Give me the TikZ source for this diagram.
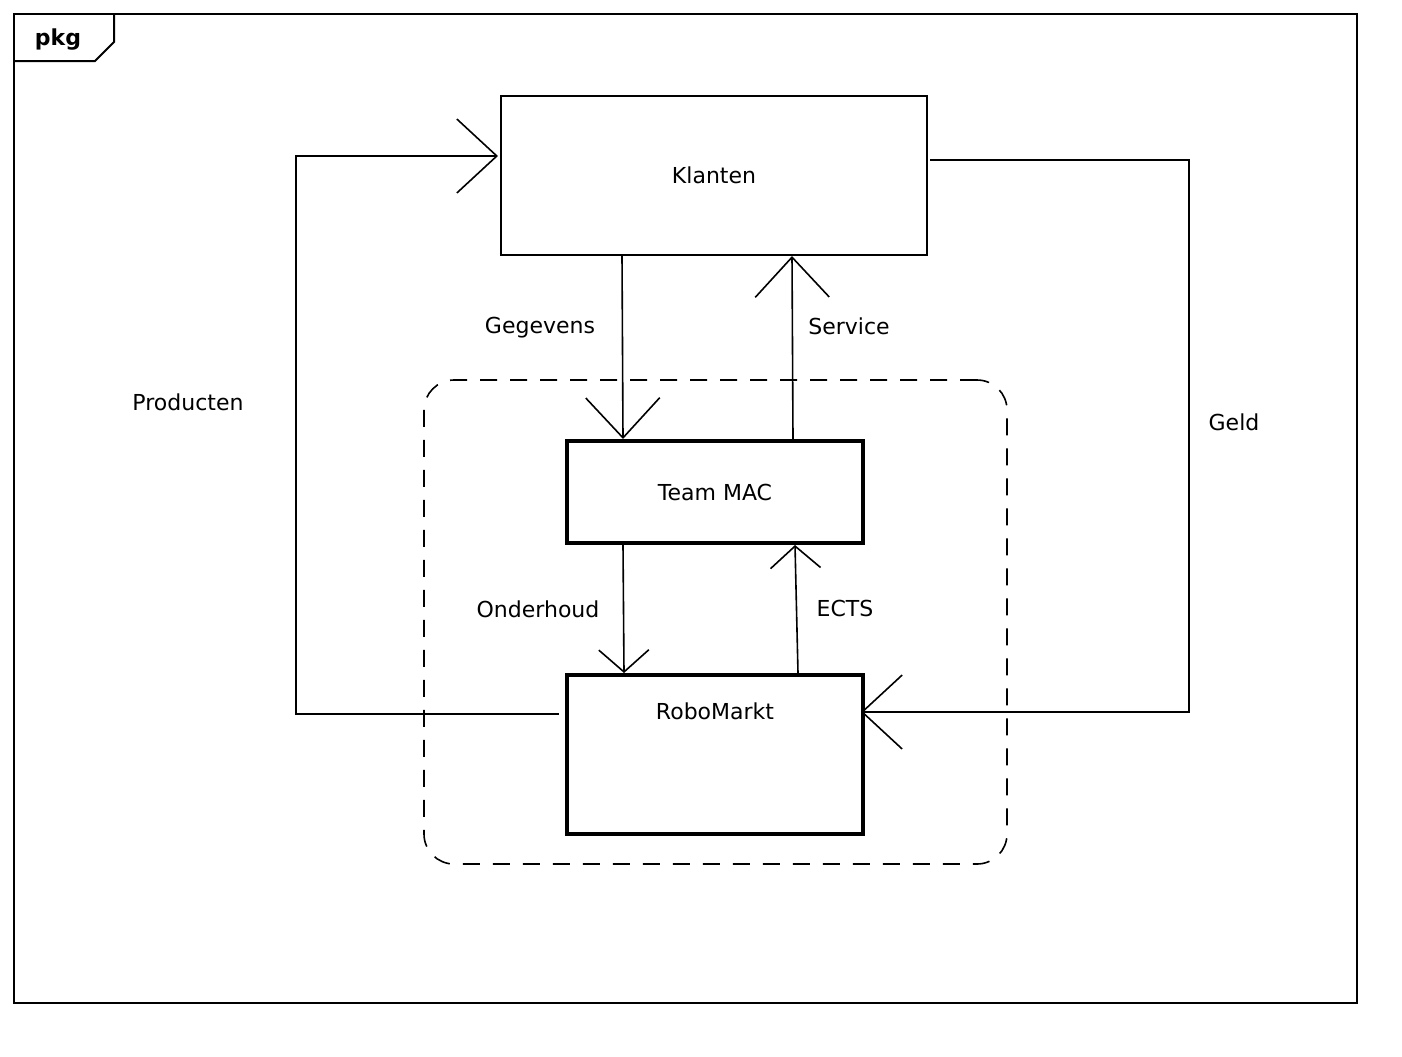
\documentclass[tikz,border=0pt]{standalone}
\usepackage{fontspec}
\setmainfont{DejaVu Sans}
\usetikzlibrary{shapes, arrows.meta, calc}

\tikzset{
  flow/.style={line width=0.8pt, -{Straight Barb[length=20pt, width=37pt]}},
  shortflow/.style={line width=0.8pt, -{Straight Barb[length=11pt, width=25pt]}},
  unit/.style={draw, rectangle, minimum width=148pt},
}

\begin{document}
\begin{tikzpicture}[x=0.5pt, y=-0.5pt, font=\fontsize{11}{13}\selectfont]
    \useasboundingbox (0,0) rectangle (1402,1056);
    % package frame
    \draw[line width=1pt] (14,14) rectangle (1357,1003);
    \draw[line width=1pt] (14,61) -- (95,61) -- (114,42) -- (114,14);
    \node[font=\fontsize{11}{13}\selectfont\bfseries] (pkg) at (58,40) {pkg};

    \node[draw, dashed, dash pattern=on 8.5pt off 6.5pt, rounded corners=15pt, line width=0.8pt, minimum width=291.5pt, minimum height=242pt] (core) at (715.5,622) {};

    \node[draw, line width=1pt, minimum width=213pt, minimum height=79.5pt] (klanten) at (714,175.5) {Klanten};
    \node[unit, line width=2pt, minimum height=51pt] (team) at (715,492) {Team MAC};
    \node[unit, line width=2pt, minimum height=79.5pt, label={[anchor=north, yshift=-11.5pt]north:RoboMarkt}] (robo) at (715,754.5) {};

    \draw[flow] ($(klanten.south)+(-92,0)$) -- ($(team.north)+(-92,0)$);
    \draw[flow] ($(team.north)+(78,0)$) -- ($(klanten.south)+(78,0)$);
    \draw[shortflow] ($(team.south)+(-92,0)$) -- ($(robo.north)+(-91,0)$);
    \draw[shortflow] ($(robo.north)+(83,0)$) -- ($(team.south)+(80,0)$);
    \draw[flow] ($(robo.north west)+(-6,41)$) -- ++(-263,0) |- ($(klanten.north west)+(-2,61)$);
    \draw[flow] ($(klanten.north east)+(2,65)$) -- ++(259,0) |- ($(robo.north east)+(-4,39)$);

    \node (gegevens) at (540,328) {Gegevens};
    \node (service) at (849,326) {Service};
    \node (producten) at (188,402) {Producten};
    \node (geld) at (1234,422) {Geld};
    \node (onderhoud) at (538,609) {Onderhoud};
    \node (ects) at (845,608) {ECTS};
\end{tikzpicture}
\end{document}
